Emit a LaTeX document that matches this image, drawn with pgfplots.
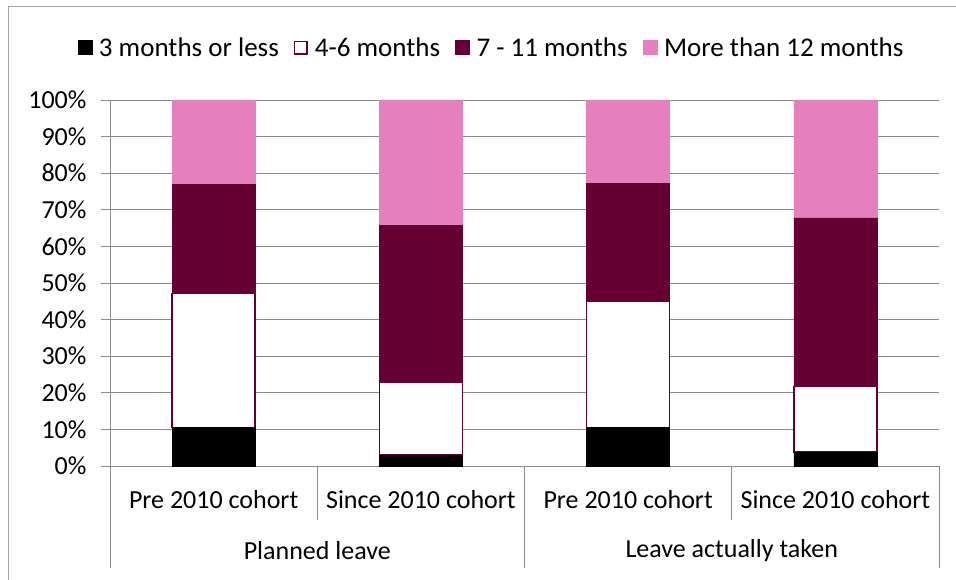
\documentclass[border=0pt]{standalone}
\usepackage{pgfplots}
\pgfplotsset{compat=1.18}
\usepackage{fontspec}
\setmainfont{Carlito}
\definecolor{darkm}{HTML}{660033}
\definecolor{pinkm}{HTML}{E480BE}
\definecolor{axgray}{HTML}{8C8C8C}
\begin{document}
\begin{tikzpicture}
\useasboundingbox (-110bp,-114bp) rectangle (846bp,466bp);
\draw[axgray!80, line width=0.8bp] (-102bp,-120bp) -- (-102bp,460bp) -- (850bp,460bp);
\begin{axis}[
  at={(0,0)}, anchor=south west,
  scale only axis, width=829bp, height=366bp,
  font=\fontsize{26bp}{30bp}\selectfont,
  ybar stacked, bar width=83bp,
  xmin=-0.5, xmax=3.5, ymin=0, ymax=100,
  xtick={0,1,2,3}, xticklabels={Pre 2010 cohort,Since 2010 cohort,Pre 2010 cohort,Since 2010 cohort},
  xtick style={draw=none},
  xticklabel style={yshift=-12bp},
  ytick={0,10,...,100},
  yticklabels={0\%,10\%,20\%,30\%,40\%,50\%,60\%,70\%,80\%,90\%,100\%},
  yticklabel style={xshift=-11bp},
  ytick style={axgray, line width=0.8bp},
  tick align=outside, major tick length=9bp,
  axis x line*=bottom, axis y line*=left,
  axis line style={axgray, line width=0.8bp, -},
  ymajorgrids, grid style={axgray, line width=0.8bp},
  clip=false,
  legend columns=4,
  legend style={at={(0.5,1)}, anchor=south, yshift=38bp, xshift=-33bp, draw=none, fill=none,
    font=\fontsize{27bp}{31bp}\selectfont,
    /tikz/every odd column/.append style={column sep=5bp},
    /tikz/every even column/.append style={column sep=13bp}},
]
\addplot[fill=black, draw=black,
  legend image code/.code={\fill[black] (0bp,-7bp) rectangle (14bp,7bp);}]
  coordinates {(0,10.6) (1,3.0) (2,10.6) (3,3.8)};
\addlegendentry{3 months or less}
\addplot[fill=white, draw=darkm, line width=1.4bp,
  legend image code/.code={\draw[fill=white, draw=darkm, line width=1.4bp] (0.7bp,-6.3bp) rectangle (13.3bp,6.3bp);}]
  coordinates {(0,36.6) (1,19.8) (2,34.3) (3,17.9)};
\addlegendentry{4-6 months}
\addplot[fill=darkm, draw=darkm,
  legend image code/.code={\fill[darkm] (0bp,-7bp) rectangle (14bp,7bp);}]
  coordinates {(0,29.7) (1,43.0) (2,32.3) (3,46.1)};
\addlegendentry{7 - 11 months}
\addplot[fill=pinkm, draw=pinkm,
  legend image code/.code={\fill[pinkm] (0bp,-7bp) rectangle (14bp,7bp);}]
  coordinates {(0,23.1) (1,34.2) (2,22.8) (3,32.2)};
\addlegendentry{More than 12 months}
\draw[axgray, line width=0.8bp] (axis cs:-0.5,0) -- ([yshift=-102bp]axis cs:-0.5,0);
\draw[axgray, line width=0.8bp] (axis cs:1.5,0) -- ([yshift=-102bp]axis cs:1.5,0);
\draw[axgray, line width=0.8bp] (axis cs:3.5,0) -- ([yshift=-102bp]axis cs:3.5,0);
\draw[axgray, line width=0.8bp] (axis cs:0.5,0) -- ([yshift=-54bp]axis cs:0.5,0);
\draw[axgray, line width=0.8bp] (axis cs:2.5,0) -- ([yshift=-54bp]axis cs:2.5,0);
\node at ([yshift=-85bp]axis cs:0.5,0) {Planned leave};
\node at ([yshift=-85bp]axis cs:2.5,0) {Leave actually taken};
\end{axis}
\end{tikzpicture}
\end{document}
